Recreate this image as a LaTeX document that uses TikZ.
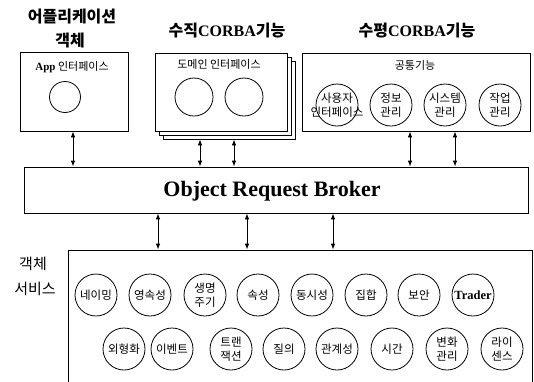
\documentclass[tikz,border=0pt]{standalone}
\usepackage{fontspec}
\setmainfont{Liberation Serif}
\newfontfamily\kr{Noto Sans CJK KR}
\usetikzlibrary{arrows.meta}
\tikzset{
  every node/.style={inner sep=0pt},
  boxnode/.style={draw, line width=0.8pt, fill=white},
  circnode/.style={draw, circle, line width=0.8pt, minimum size=42pt},
  ctext/.style={align=center, font=\kr\fontsize{11.5}{14}\selectfont},
  title/.style={font=\kr\bfseries\fontsize{16}{17}\selectfont},
  lbl/.style={font=\kr\fontsize{11}{12}\selectfont},
  arr/.style={line width=0.8pt, {Latex[length=6pt,width=4.5pt]}-{Latex[length=6pt,width=4.5pt]}}
}
\newcommand\svcc[4]{\node[circnode] (#1) at (#2,#3) {}; \node[ctext] at (#1) {#4};}
\begin{document}
\begin{tikzpicture}[x=1pt,y=-1pt]
\useasboundingbox[fill=white] (0,0) rectangle (534,381);

% titles
\node[title] (t1) at (72,17) {어플리케이션};
\node[title] (t1b) at (70,41) {객체};
\node[title] (t2) at (227,31) {수직\textbf{\rmfamily CORBA}기능};
\node[title] (t3) at (417,31) {수평\textbf{\rmfamily CORBA}기능};

% application box
\node[boxnode, minimum width=108pt, minimum height=79pt] (app) at (74,91.5) {};
\node[lbl] (appl) at (72,67) {{\rmfamily\bfseries App} 인터페이스};
\node[circnode, minimum size=31pt] (appc) at (65,97) {};

% vertical box (stacked)
\node[boxnode, minimum width=132pt, minimum height=78pt] (vert3) at (229,100) {};
\node[boxnode, minimum width=132pt, minimum height=78pt] (vert2) at (225,96) {};
\node[boxnode, minimum width=132pt, minimum height=78pt] (vert) at (221,92) {};
\node[lbl] (vertl) at (219,64) {도메인 인터페이스};
\node[circnode, minimum size=38pt] (vc1) at (194,97) {};
\node[circnode, minimum size=38pt] (vc2) at (244,97) {};

% horizontal box
\node[boxnode, minimum width=228pt, minimum height=78pt] (hor) at (416,92) {};
\node[lbl] (horl) at (415,65) {공통기능};
\svcc{h1}{337}{105}{사용자\\인터페이스}
\svcc{h2}{391}{105}{정보\\관리}
\svcc{h3}{445}{105}{시스템\\관리}
\svcc{h4}{500}{105}{작업\\관리}

% ORB
\node[boxnode, minimum width=504pt, minimum height=46pt] (orb) at (276,190) {};
\node[font=\bfseries\fontsize{22}{24}\selectfont] (orbl) at (272,191) {Object Request Broker};

% services
\node[boxnode, minimum width=464pt, minimum height=150pt] (svc) at (300,325) {};
\node[font=\kr\fontsize{15}{16}\selectfont] (s1) at (33,264) {객체};
\node[font=\kr\fontsize{15}{16}\selectfont] (s2) at (35,289) {서비스};

\svcc{a1}{96}{295}{네이밍}
\svcc{a2}{150}{295}{영속성}
\svcc{a3}{205}{295}{생명\\주기}
\svcc{a4}{258}{295}{속성}
\svcc{a5}{312}{295}{동시성}
\svcc{a6}{366}{295}{집합}
\svcc{a7}{419}{295}{보안}
\node[circnode] (a8) at (473,295) {};
\node[font=\bfseries\fontsize{12.5}{13}\selectfont] at (a8) {Trader};

\svcc{b1}{124}{349}{외형화}
\svcc{b2}{172}{349}{이벤트}
\svcc{b3}{231}{349}{트랜\\잭션}
\svcc{b4}{284}{349}{질의}
\svcc{b5}{337}{349}{관계성}
\svcc{b6}{392}{349}{시간}
\svcc{b7}{447}{349}{변화\\관리}
\svcc{b8}{502}{349}{라이\\센스}

% arrows top
\draw[arr] (73,0 |- orb.north) -- (73,0 |- app.south);
\draw[arr] (200,0 |- orb.north) -- (200,0 |- vert3.south);
\draw[arr] (234,0 |- orb.north) -- (234,0 |- vert3.south);
\draw[arr] (410,0 |- orb.north) -- (410,0 |- hor.south);
\draw[arr] (455,0 |- orb.north) -- (455,0 |- hor.south);
% arrows bottom
\draw[arr] (158,0 |- orb.south) -- (158,0 |- svc.north);
\draw[arr] (247,0 |- orb.south) -- (247,0 |- svc.north);
\draw[arr] (333,0 |- orb.south) -- (333,0 |- svc.north);
\end{tikzpicture}
\end{document}
